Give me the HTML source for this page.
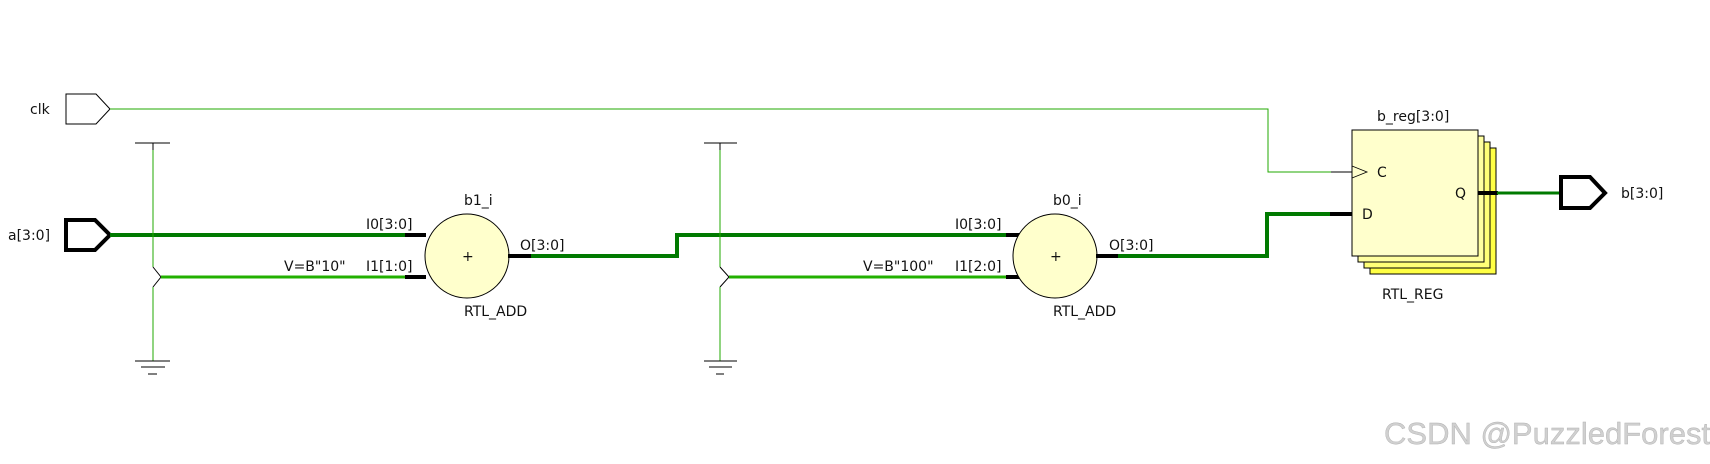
<!DOCTYPE html>
<html><head><meta charset="utf-8"><style>
html,body{margin:0;padding:0;background:#fff;width:1710px;height:464px;overflow:hidden}
svg text{font-family:"DejaVu Sans","Liberation Sans",sans-serif;font-size:14px;fill:#111}
</style></head><body>
<svg width="1710" height="464" viewBox="0 0 1710 464" xmlns="http://www.w3.org/2000/svg">
<!-- clk -->
<text x="30" y="114">clk</text>
<polygon points="66,94 96,94 110,109 96,124 66,124" fill="#fff" stroke="#000" stroke-width="1"/>
<polyline points="110,109 1268,109 1268,172 1331,172" fill="none" stroke="#22aa00" stroke-width="1"/>
<line x1="1331" y1="172" x2="1352" y2="172" stroke="#000" stroke-width="1"/>
<!-- a -->
<text x="8" y="240">a[3:0]</text>
<polygon points="66,220 95,220 110,235 95,250 66,250" fill="#fff" stroke="#000" stroke-width="4"/>
<line x1="110" y1="235" x2="406" y2="235" stroke="#007a00" stroke-width="4"/>
<line x1="405" y1="235" x2="426" y2="235" stroke="#000" stroke-width="4"/>
<!-- const 1 -->
<line x1="135" y1="143" x2="170" y2="143" stroke="#000"/>
<line x1="153" y1="143" x2="153" y2="150" stroke="#000"/>
<polyline points="153,150 153,267" fill="none" stroke="#22aa00"/>
<polyline points="153,267 161,277 153,287" fill="none" stroke="#000"/>
<polyline points="153,287 153,361" fill="none" stroke="#22aa00"/>
<line x1="135" y1="361" x2="170" y2="361" stroke="#000"/>
<line x1="141" y1="367" x2="165" y2="367" stroke="#000"/>
<line x1="148" y1="374" x2="157" y2="374" stroke="#000"/>
<line x1="161" y1="277" x2="406" y2="277" stroke="#22b000" stroke-width="3"/>
<line x1="405" y1="277" x2="426" y2="277" stroke="#000" stroke-width="4"/>
<text x="284" y="271">V=B"10"</text>
<text x="366" y="229">I0[3:0]</text>
<text x="366" y="271">I1[1:0]</text>
<circle cx="467" cy="256" r="42" fill="#ffffcc" stroke="#000"/>
<text x="462" y="261">+</text>
<text x="464" y="205">b1_i</text>
<text x="464" y="316">RTL_ADD</text>
<text x="520" y="250">O[3:0]</text>
<line x1="508" y1="256" x2="531" y2="256" stroke="#000" stroke-width="4"/>
<polyline points="531,256 677,256 677,235 1007,235" fill="none" stroke="#007a00" stroke-width="4"/>
<line x1="1006" y1="235" x2="1026" y2="235" stroke="#000" stroke-width="4"/>
<!-- const 2 -->
<line x1="704" y1="143" x2="737" y2="143" stroke="#000"/>
<line x1="720" y1="143" x2="720" y2="150" stroke="#000"/>
<polyline points="720,150 720,267" fill="none" stroke="#22aa00"/>
<polyline points="720,267 729,277 720,287" fill="none" stroke="#000"/>
<polyline points="720,287 720,361" fill="none" stroke="#22aa00"/>
<line x1="704" y1="361" x2="737" y2="361" stroke="#000"/>
<line x1="709" y1="367" x2="732" y2="367" stroke="#000"/>
<line x1="716" y1="374" x2="724" y2="374" stroke="#000"/>
<line x1="729" y1="277" x2="1007" y2="277" stroke="#22b000" stroke-width="3"/>
<line x1="1006" y1="277" x2="1026" y2="277" stroke="#000" stroke-width="4"/>
<text x="863" y="271">V=B"100"</text>
<text x="955" y="229">I0[3:0]</text>
<text x="955" y="271">I1[2:0]</text>
<circle cx="1055" cy="256" r="42" fill="#ffffcc" stroke="#000"/>
<text x="1050" y="261">+</text>
<text x="1053" y="205">b0_i</text>
<text x="1053" y="316">RTL_ADD</text>
<text x="1109" y="250">O[3:0]</text>
<line x1="1096" y1="256" x2="1118" y2="256" stroke="#000" stroke-width="4"/>
<polyline points="1118,256 1267,256 1267,214 1331,214" fill="none" stroke="#007a00" stroke-width="4"/>
<line x1="1330" y1="214" x2="1352" y2="214" stroke="#000" stroke-width="4"/>
<!-- register -->
<rect x="1370" y="148" width="126" height="126" fill="#ffff44" stroke="#000"/>
<rect x="1364" y="142" width="126" height="126" fill="#ffff77" stroke="#000"/>
<rect x="1358" y="136" width="126" height="126" fill="#ffffa0" stroke="#000"/>
<rect x="1352" y="130" width="126" height="126" fill="#ffffcc" stroke="#000"/>
<polyline points="1352,166 1367,172 1352,178" fill="none" stroke="#000" stroke-width="0.8"/>
<text x="1377" y="177">C</text>
<text x="1362" y="219">D</text>
<text x="1455" y="198">Q</text>
<text x="1377" y="121">b_reg[3:0]</text>
<text x="1382" y="299">RTL_REG</text>
<line x1="1478" y1="193" x2="1498" y2="193" stroke="#000" stroke-width="4"/>
<line x1="1497" y1="193" x2="1561" y2="193" stroke="#007a00" stroke-width="3"/>
<polygon points="1561,177 1590,177 1605,193 1590,208 1561,208" fill="#fff" stroke="#000" stroke-width="4"/>
<text x="1621" y="198">b[3:0]</text>
<text x="1384" y="444" style="font-family:'Liberation Sans',sans-serif;font-size:31px;fill:#d0d0d0;stroke:#b0b0b0;stroke-width:0.4">CSDN @PuzzledForest</text>
</svg>
</body></html>
